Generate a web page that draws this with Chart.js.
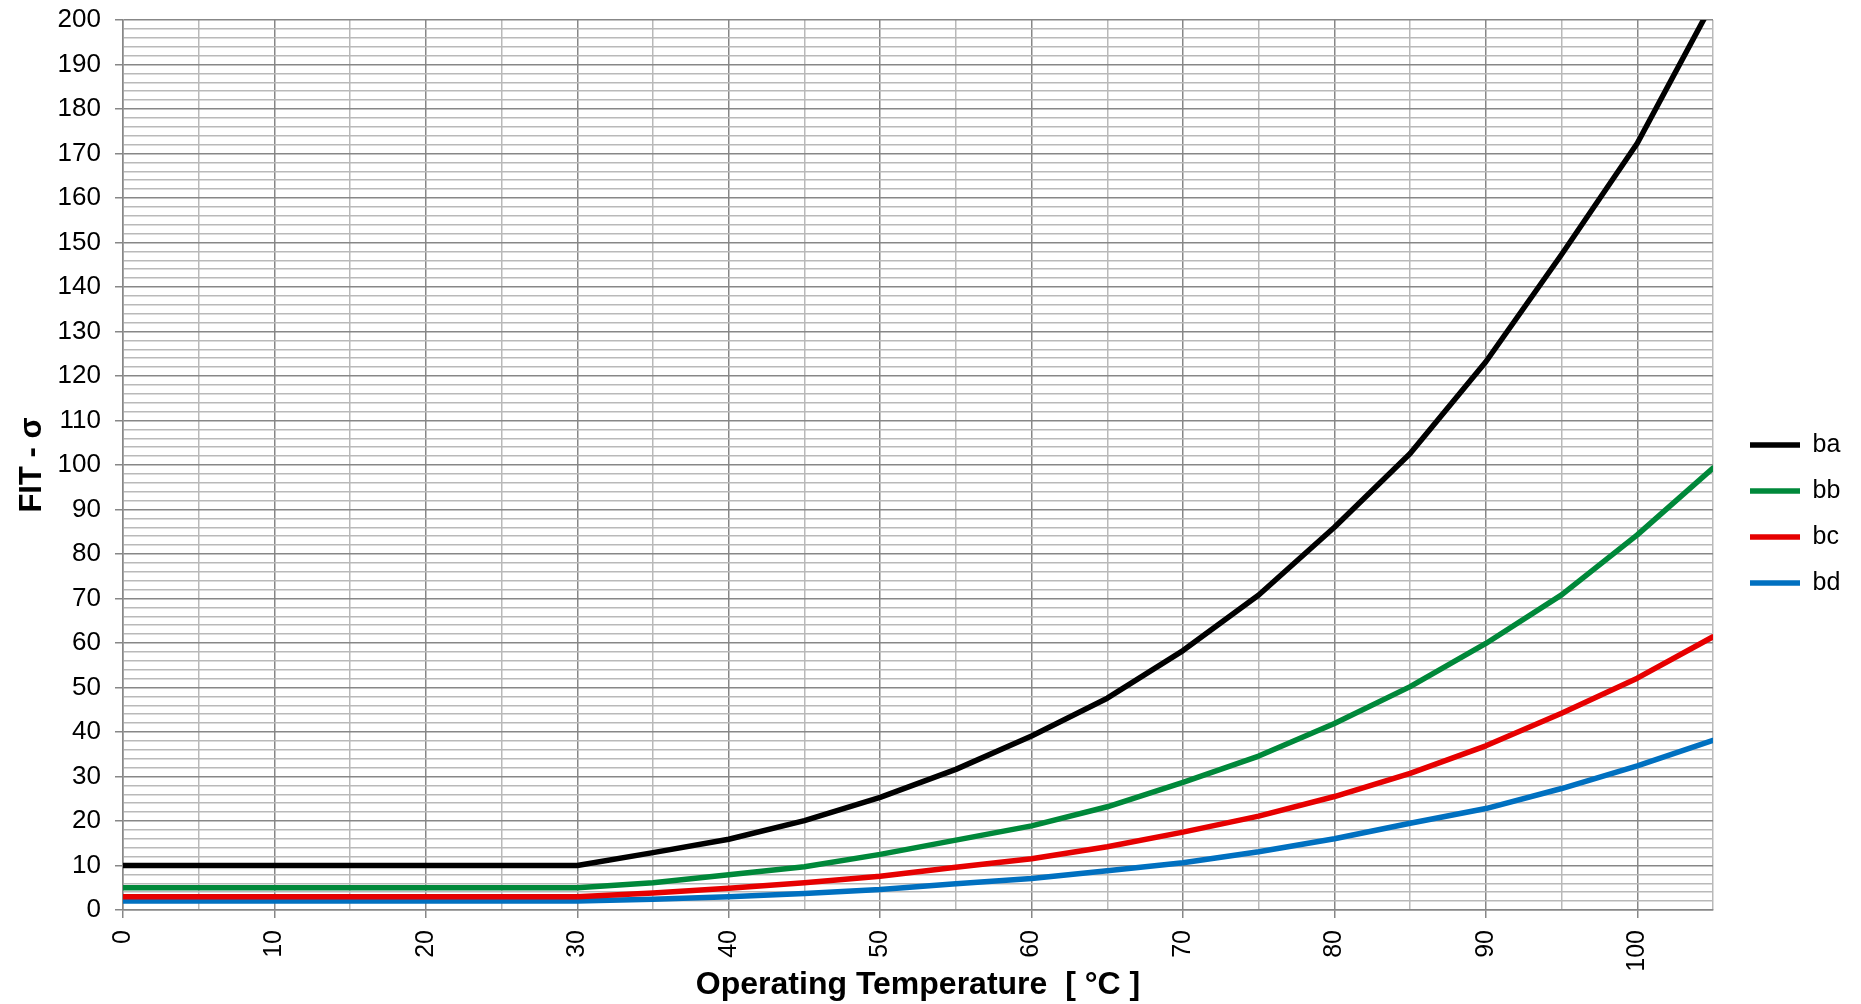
<!DOCTYPE html>
<html>
<head>
<meta charset="utf-8">
<script src="https://cdn.jsdelivr.net/npm/chart.js@4/dist/chart.umd.min.js"></script>
<style>
  html, body { margin: 0; padding: 0; background: #ffffff; }
  #wrap { width: 1861px; height: 1004px; position: relative; }
</style>
</head>
<body>
<div id="wrap"><canvas id="c" width="1861" height="1004"></canvas></div>
<script>
// ---- data ----
const temps = [0, 5, 10, 15, 20, 25, 30, 35, 40, 45, 50, 55, 60, 65, 70, 75, 80, 85, 90, 95, 100, 105];
const ba = [10, 10, 10, 10, 10, 10, 10, 12.9, 15.9, 20.1, 25.3, 31.6, 39.1, 47.6, 58.3, 70.8, 86.0, 102.6, 123.2, 147.3, 172.3, 204];
const bb = [5, 5, 5, 5, 5, 5, 5, 6.1, 7.9, 9.7, 12.5, 15.7, 18.9, 23.2, 28.7, 34.6, 41.9, 50.2, 59.9, 70.8, 84.3, 99.3];
const bc = [3, 3, 3, 3, 3, 3, 3, 3.8, 4.9, 6.1, 7.6, 9.6, 11.5, 14.2, 17.5, 21.1, 25.5, 30.7, 36.9, 44.2, 52.1, 61.4];
const bd = [2, 2, 2, 2, 2, 2, 2, 2.4, 3.0, 3.7, 4.6, 5.9, 7.1, 8.8, 10.6, 13.1, 16.0, 19.5, 22.8, 27.3, 32.4, 38.1];
const seriesNames = ['ba', 'bb', 'bc', 'bd'];
const seriesColors = ['#000000', '#00883A', '#E60000', '#0070C0'];
const xTitle = 'Operating Temperature  [ °C ]';
const yTitle = 'FIT - σ';

// ---- styling ----
const FONT = "'Liberation Sans', Arial, sans-serif";
const MAJOR = '#878787';
const MINOR = '#b9b9b9';

const seriesValues = [ba, bb, bc, bd];
const datasets = seriesValues.map((vals, i) => ({
  label: seriesNames[i],
  data: temps.map((t, j) => ({ x: t, y: vals[j] })),
  borderColor: seriesColors[i],
  backgroundColor: seriesColors[i],
  borderWidth: 5.5,
  pointRadius: 0,
  tension: 0,
  borderCapStyle: 'round',
  borderJoinStyle: 'round',
  clip: 0,
  order: i
}));

const layoutFix = {
  id: 'layoutFix',
  afterInit(chart) {
    const lg = chart.legend;
    const origFit = lg.fit.bind(lg);
    lg.fit = function () { origFit(); this.width = 148; };
  },
  afterLayout(chart) {
    const lg = chart.legend;
    lg.left += 16;
    lg.right += 16;
    lg.top += 2;
    lg.bottom += 2;
  }
};

new Chart(document.getElementById('c'), {
  type: 'line',
  data: { datasets },
  plugins: [layoutFix],
  options: {
    responsive: false,
    animation: false,
    events: [],
    layout: { padding: { top: 20, left: 0, right: 0, bottom: 0 } },
    plugins: {
      tooltip: { enabled: false },
      legend: {
        position: 'right',
        align: 'center',
        labels: {
          usePointStyle: true,
          pointStyle: 'line',
          pointStyleWidth: 50,
          padding: 21,
          color: '#000000',
          font: { family: FONT, size: 25 }
        }
      }
    },
    scales: {
      x: {
        type: 'linear',
        min: 0,
        max: 105,
        afterFit(scale) { scale.height = 94; scale.paddingLeft = 0; scale.paddingRight = 0; },
        ticks: {
          stepSize: 5,
          autoSkip: false,
          minRotation: 90,
          maxRotation: 90,
          padding: 12,
          color: '#000000',
          font: { family: FONT, size: 25 },
          callback: (v) => (v % 10 === 0 ? String(v) : '')
        },
        grid: {
          color: (ctx) => (ctx.tick && ctx.tick.value % 10 === 0 ? MAJOR : MINOR),
          lineWidth: 1.5,
          tickLength: 8,
          tickColor: (ctx) => (ctx.tick && ctx.tick.value % 10 === 0 && ctx.tick.value <= 100 ? MAJOR : 'rgba(0,0,0,0)'),
          tickWidth: 1.5
        },
        border: { color: MAJOR, width: 1.5 },
        title: {
          display: true,
          text: xTitle,
          color: '#000000',
          font: { family: FONT, size: 32, weight: 'bold' },
          padding: { top: 0, bottom: 0 }
        }
      },
      y: {
        type: 'linear',
        min: 0,
        max: 200,
        afterFit(scale) { scale.width = 123; scale.paddingTop = 0; scale.paddingBottom = 0; },
        ticks: {
          stepSize: 2,
          autoSkip: false,
          padding: 14,
          color: '#000000',
          font: { family: FONT, size: 26 },
          callback: (v) => (v % 10 === 0 ? String(v) : '')
        },
        grid: {
          color: (ctx) => (ctx.tick && ctx.tick.value % 10 === 0 ? MAJOR : MINOR),
          lineWidth: 1.5,
          tickLength: 8,
          tickColor: (ctx) => (ctx.tick && ctx.tick.value % 10 === 0 ? MAJOR : 'rgba(0,0,0,0)'),
          tickWidth: 1.5
        },
        border: { color: MAJOR, width: 1.5 },
        title: {
          display: true,
          text: yTitle,
          color: '#000000',
          font: { family: FONT, size: 31, weight: 'bold' },
          padding: { top: 14, bottom: 0 }
        }
      }
    }
  }
});
</script>
</body>
</html>
